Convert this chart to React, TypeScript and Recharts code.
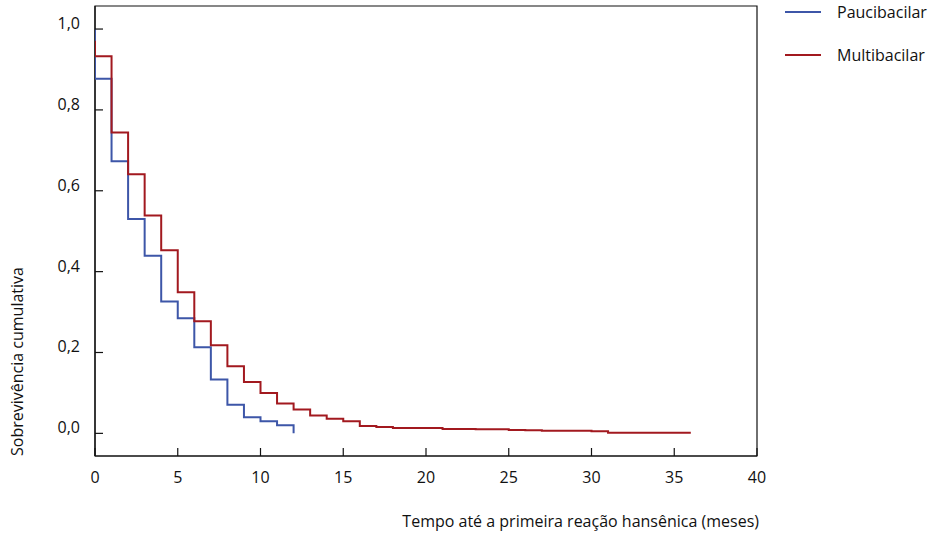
import { LineChart, Line, XAxis, YAxis, ReferenceArea } from "recharts";

// Kaplan-Meier style steps
const pauciTime = [0, 0, 1, 2, 3, 4, 5, 6, 7, 8, 9, 10, 11, 12];
const pauciSurv = [1.0, 0.877, 0.673, 0.53, 0.439, 0.326, 0.285, 0.213, 0.133, 0.071, 0.04, 0.03, 0.02, 0.0];

const multiTime = [0, 0, 1, 2, 3, 4, 5, 6, 7, 8, 9, 10, 11, 12, 13, 14, 15, 16, 17, 18, 21, 23, 25, 26, 27, 30, 31, 36];
const multiSurv = [
  0.971, 0.933, 0.744, 0.641, 0.539, 0.453, 0.349, 0.277, 0.218, 0.166, 0.127, 0.1, 0.074, 0.059, 0.044, 0.036,
  0.03, 0.018, 0.0155, 0.013, 0.011, 0.01, 0.008, 0.0075, 0.0065, 0.005, 0.0015, 0.0015,
];

const xTicks = [0, 5, 10, 15, 20, 25, 30, 35, 40];
const yTicks = [0, 0.2, 0.4, 0.6, 0.8, 1.0];
const xDomain = [0, 40];
const yDomain = [-0.056, 1.057];

const series = [
  { name: "Paucibacilar", color: "#3d56a8", time: pauciTime, surv: pauciSurv },
  { name: "Multibacilar", color: "#a2191f", time: multiTime, surv: multiSurv },
];

const FONT = "'Open Sans', sans-serif";
const FS = 16;
const INK = "#111";

const toRows = (time: number[], surv: number[]) => time.map((t, i) => ({ t, s: surv[i] }));

function XTick(props: any) {
  const { x, y, payload } = props;
  return (
    <g>
      <line x1={x} y1={y} x2={x} y2={y - 8} stroke={INK} strokeWidth={1.2} />
      <text x={x} y={y + 27} textAnchor="middle" fontFamily={FONT} fontSize={FS} fill={INK}>
        {payload.value}
      </text>
    </g>
  );
}

function YTick(props: any) {
  const { x, y, payload } = props;
  return (
    <g>
      <line x1={x} y1={y} x2={x + 8} y2={y} stroke={INK} strokeWidth={1.2} />
      <text x={x - 15} y={y} textAnchor="end" fontFamily={FONT} fontSize={FS} fill={INK}>
        {Number(payload.value).toFixed(1).replace(".", ",")}
      </text>
    </g>
  );
}

export default function App() {
  return (
    <div style={{ position: "absolute", left: 0, top: 0, width: 929, height: 534, background: "#fff" }}>
      <LineChart width={929} height={534} margin={{ top: 6, right: 172, bottom: 0, left: 35 }}>
        {/* plot frame */}
        <ReferenceArea
          x1={xDomain[0]}
          x2={xDomain[1]}
          y1={yDomain[0]}
          y2={yDomain[1]}
          fill="none"
          fillOpacity={0}
          stroke={INK}
          strokeWidth={1.2}
          ifOverflow="visible"
          zIndex={-10}
        />
        <XAxis
          type="number"
          dataKey="t"
          domain={xDomain}
          ticks={xTicks}
          height={78}
          tickSize={0}
          tickMargin={0}
          tickLine={false}
          tick={<XTick />}
          axisLine={{ stroke: INK, strokeWidth: 1.2 }}
          allowDataOverflow
          label={({ viewBox }: any) => (
            <text
              x={viewBox.x + viewBox.width + 2}
              y={viewBox.y + 71}
              textAnchor="end"
              fontFamily={FONT}
              fontSize={FS}
              fill={INK}
            >
              Tempo até a primeira reação hansênica (meses)
            </text>
          )}
        />
        <YAxis
          type="number"
          domain={yDomain}
          ticks={yTicks}
          width={60}
          tickSize={0}
          tickMargin={0}
          tickLine={false}
          tick={<YTick />}
          axisLine={{ stroke: INK, strokeWidth: 1.2 }}
          allowDataOverflow
          label={({ viewBox }: any) => (
            <text
              x={23}
              y={viewBox.y + viewBox.height}
              transform={`rotate(-90 23 ${viewBox.y + viewBox.height})`}
              textAnchor="start"
              fontFamily={FONT}
              fontSize={FS}
              fill={INK}
            >
              Sobrevivência cumulativa
            </text>
          )}
        />
        {series.map((s) => (
          <Line
            key={s.name}
            data={toRows(s.time, s.surv)}
            dataKey="s"
            name={s.name}
            type="stepAfter"
            stroke={s.color}
            strokeWidth={2}
            dot={false}
            zIndex={1000}
            isAnimationActive={false}
          />
        ))}
      </LineChart>
      {series.map((s, i) => (
        <div
          key={s.name}
          style={{ position: "absolute", left: 785, top: 3 + i * 42.7, height: 18, display: "flex", alignItems: "center" }}
        >
          <div style={{ width: 36, height: 2, background: s.color }} />
          <span style={{ marginLeft: 16, fontFamily: FONT, fontSize: FS, color: INK, lineHeight: "18px" }}>{s.name}</span>
        </div>
      ))}
    </div>
  );
}
